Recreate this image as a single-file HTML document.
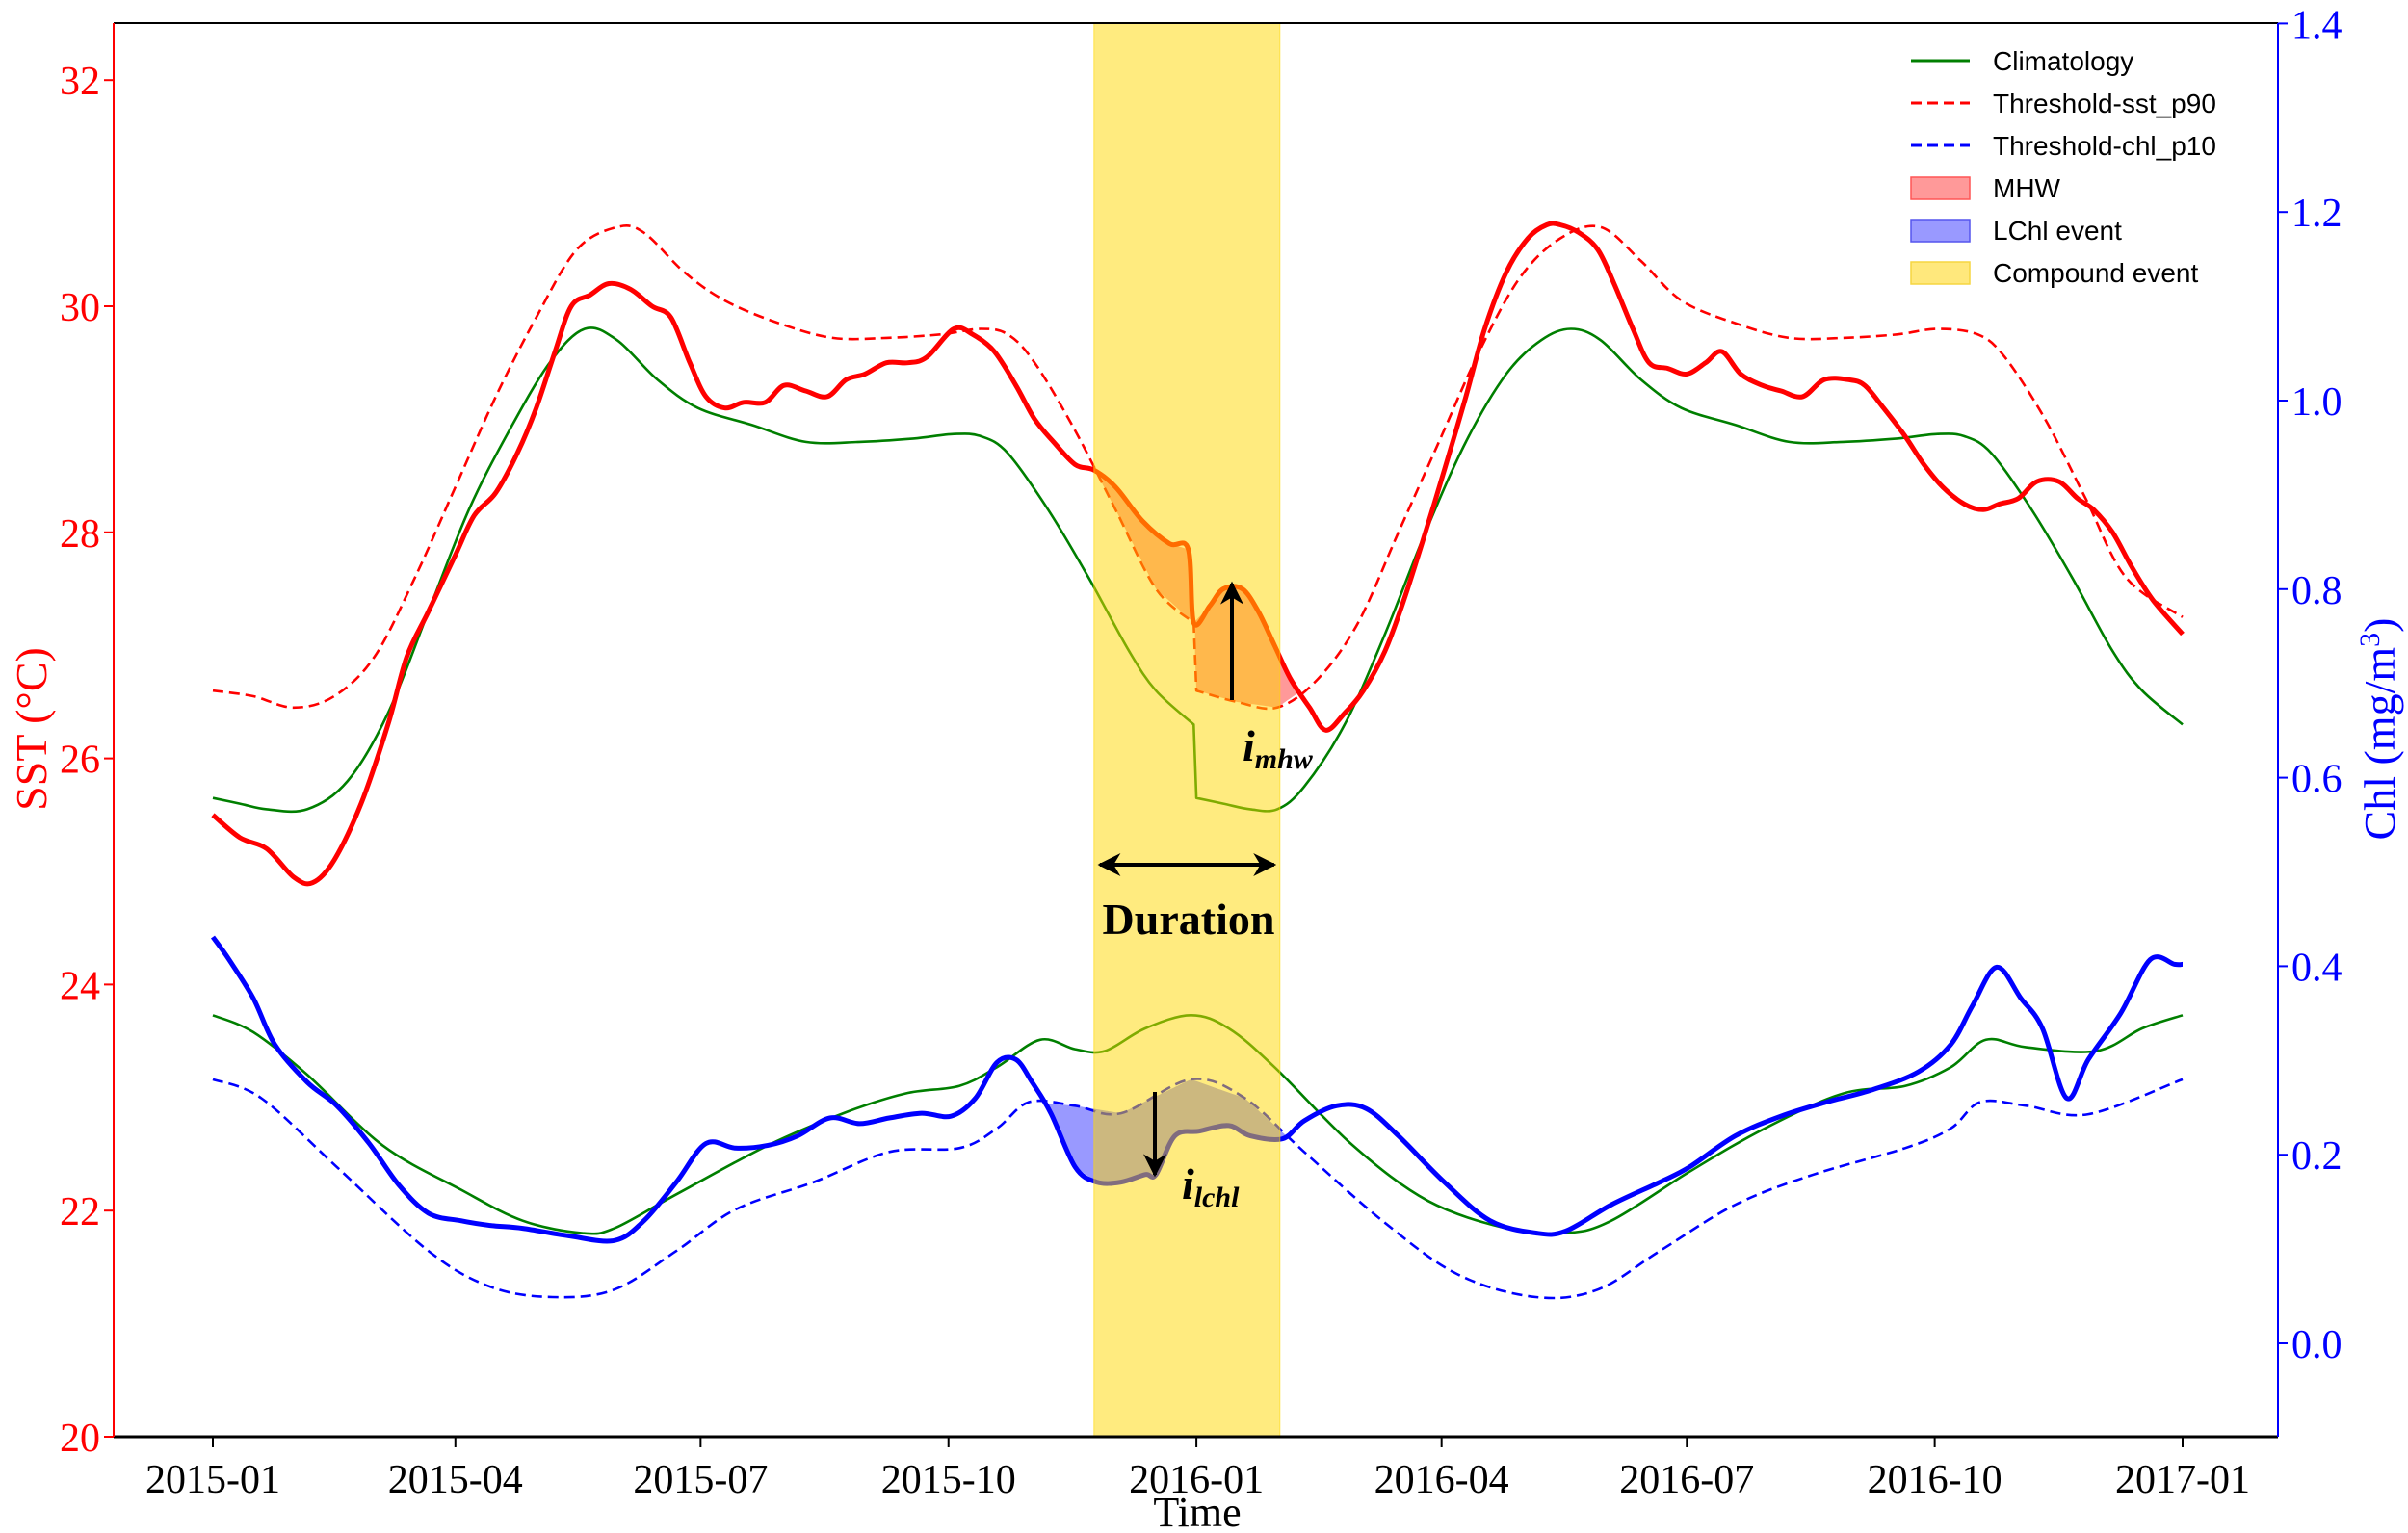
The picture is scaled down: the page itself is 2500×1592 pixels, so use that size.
<!DOCTYPE html>
<html><head><meta charset="utf-8"><style>
html,body{margin:0;padding:0;background:#fff;}
svg{display:block;}
</style></head><body>
<svg id="chart" width="2500" height="1592" viewBox="0 0 2500 1592" xmlns="http://www.w3.org/2000/svg"></svg>
<script>
// ---- data (days since 2015-01-01) ----
const sstClimDays=[0,10,20,35,50,65,80,95,110,125,138,150,165,180,200,220,240,260,275,285,295,310,325,340,350,364,365,375,385,395,405,420,435,450,465,480,493,504,515,530,545,565,585,605,625,640,650,660,675,690,705,716,731];
const sstClimVals=[25.65,25.6,25.55,25.55,25.8,26.4,27.3,28.2,28.9,29.5,29.8,29.7,29.35,29.1,28.95,28.8,28.8,28.83,28.87,28.85,28.7,28.2,27.6,26.95,26.6,26.3,25.65,25.6,25.55,25.55,25.75,26.3,27.1,28.0,28.8,29.4,29.7,29.8,29.7,29.35,29.1,28.95,28.8,28.8,28.83,28.87,28.85,28.7,28.2,27.6,26.95,26.6,26.3];
const sstThrDays=[0,15,30,45,60,75,90,105,120,135,150,160,175,190,210,230,250,270,285,295,305,320,335,350,364,365,380,395,410,425,440,455,470,485,500,515,530,545,565,585,605,625,640,655,665,680,695,710,731];
const sstThrVals=[26.6,26.55,26.45,26.55,26.9,27.6,28.4,29.2,29.9,30.5,30.7,30.65,30.3,30.05,29.85,29.72,29.72,29.75,29.8,29.75,29.5,28.9,28.2,27.5,27.2,26.6,26.5,26.45,26.7,27.2,28.0,28.8,29.6,30.25,30.6,30.7,30.4,30.05,29.85,29.72,29.72,29.75,29.8,29.75,29.55,29.0,28.3,27.6,27.25];
const sstDays=[0,10,20,30,37,45,55,65,72,80,90,97,105,113,120,127,133,140,147,155,163,170,177,183,190,197,205,212,220,228,235,242,250,258,265,275,282,290,298,305,312,320,327,335,345,355,362,364,370,375,382,388,394,400,407,413,420,427,435,442,450,457,465,472,480,488,
 495,500,507,514,520,527,533,540,547,554,560,567,575,582,590,598,607,613,620,628,635,642,650,657,663,670,677,685,692,698,705,712,720,731];
const sstVals=[25.5,25.3,25.2,24.95,24.9,25.1,25.6,26.3,26.9,27.3,27.8,28.15,28.35,28.7,29.1,29.6,30.0,30.1,30.2,30.15,30.0,29.9,29.5,29.2,29.1,29.15,29.15,29.3,29.25,29.2,29.35,29.4,29.5,29.5,29.55,29.8,29.75,29.6,29.3,29.0,28.8,28.6,28.55,28.4,28.1,27.9,27.85,27.2,27.35,27.5,27.5,27.3,27.0,26.7,26.45,26.25,26.4,26.6,26.95,27.4,28.0,28.55,29.2,29.8,30.3,30.6,
 30.72,30.72,30.65,30.5,30.2,29.8,29.5,29.45,29.4,29.5,29.6,29.4,29.3,29.25,29.2,29.35,29.35,29.3,29.1,28.85,28.6,28.4,28.25,28.2,28.25,28.3,28.45,28.45,28.3,28.2,28.0,27.7,27.4,27.1];
const chlClimDays=[0,15,35,63,92,115,137,149,172,206,234,257,277,291,307,320,331,346,363,377,394,423,451,480,502,519,548,576,605,628,645,658,673,699,716,731];
const chlClimVals=[0.348,0.33,0.285,0.21,0.163,0.13,0.117,0.122,0.158,0.21,0.244,0.265,0.273,0.293,0.322,0.312,0.31,0.334,0.348,0.334,0.293,0.21,0.151,0.122,0.117,0.13,0.182,0.228,0.265,0.273,0.293,0.322,0.314,0.31,0.334,0.348];
const chlThrDays=[0,18,46,80,103,126,149,172,194,223,251,277,291,303,320,337,363,383,405,434,462,491,514,537,565,594,628,645,656,673,696,731];
const chlThrVals=[0.28,0.26,0.187,0.098,0.06,0.049,0.057,0.098,0.142,0.171,0.203,0.207,0.228,0.256,0.252,0.244,0.28,0.26,0.203,0.13,0.073,0.049,0.057,0.098,0.147,0.179,0.207,0.228,0.256,0.252,0.243,0.28];
const chlDays=[0,6,15,23,35,46,58,69,80,92,103,115,132,149,160,172,183,194,206,217,229,240,251,263,274,283,291,298,304,311,320,328,337,346,350,357,366,377,385,397,405,417,428,440,457,474,491,502,519,537,548,565,582,599,616,633,645,653,662,671,679,688,696,708,719,728,731];
const chlVals=[0.431,0.407,0.366,0.317,0.277,0.252,0.212,0.168,0.138,0.13,0.125,0.122,0.114,0.109,0.13,0.171,0.212,0.207,0.21,0.22,0.239,0.233,0.239,0.244,0.241,0.26,0.298,0.301,0.277,0.244,0.187,0.171,0.171,0.179,0.179,0.22,0.225,0.231,0.22,0.217,0.236,0.252,0.249,0.22,0.171,0.13,0.117,0.119,0.147,0.171,0.187,0.22,0.241,0.256,0.269,0.288,0.317,0.358,0.399,0.366,0.334,0.26,0.301,0.35,0.407,0.402,0.402];
const eventStart=327, eventEnd=396;       // compound event band (days)
const mhwWin=[327,402], lchlWin=[310,398];
const xTickLabels=['2015-01','2015-04','2015-07','2015-10','2016-01','2016-04','2016-07','2016-10','2017-01'];
const xTickDays=[0,90,181,273,365,456,547,639,731];
const sstTicks=[20,22,24,26,28,30,32];
const chlTicks=[0.0,0.2,0.4,0.6,0.8,1.0,1.2,1.4];

// ---- geometry ----
const L=118,R=2365,T=24,B=1492;
const x0=221,x1=2266;
const X=d=>x0+(x1-x0)*d/731;
const Ys=v=>B-(v-20)*117.4;
const Yc=v=>1395-v*979;
const svg=document.getElementById('chart');
const NS='http://www.w3.org/2000/svg';
function mk(tag,attrs,parent){const e=document.createElementNS(NS,tag);for(const k in attrs)e.setAttribute(k,attrs[k]);(parent||svg).appendChild(e);return e;}
function interp(ds,vs,d){if(d<=ds[0])return vs[0];for(let i=1;i<ds.length;i++){if(d<=ds[i]){const t=(d-ds[i-1])/(ds[i]-ds[i-1]||1);return vs[i-1]+t*(vs[i]-vs[i-1]);}}return vs[vs.length-1];}
function pathOf(ds,vs,Y){
  const n=Math.min(ds.length,vs.length);
  const P=[];for(let i=0;i<n;i++)P.push([X(ds[i]),Y(vs[i])]);
  let s='M'+P[0][0].toFixed(1)+','+P[0][1].toFixed(1);
  for(let i=0;i<n-1;i++){
    const a=P[i],b=P[i+1];
    if(ds[i+1]-ds[i]<=1.01){s+='L'+b[0].toFixed(1)+','+b[1].toFixed(1);continue;}
    let p0=(i>0&&ds[i]-ds[i-1]>1.01)?P[i-1]:a;
    let p3=(i+2<n&&ds[i+2]-ds[i+1]>1.01)?P[i+2]:b;
    const c1=[a[0]+(b[0]-p0[0])/6,a[1]+(b[1]-p0[1])/6];
    const c2=[b[0]-(p3[0]-a[0])/6,b[1]-(p3[1]-a[1])/6];
    s+='C'+c1[0].toFixed(1)+','+c1[1].toFixed(1)+' '+c2[0].toFixed(1)+','+c2[1].toFixed(1)+' '+b[0].toFixed(1)+','+b[1].toFixed(1);
  }
  return s;
}

// fills
function fillBetween(upD,upV,upY,loD,loV,loY,win,color,name){
  let segs=[],cur=[];
  for(let d=win[0];d<=win[1];d+=0.5){
    const u=interp(upD,upV,d),l=interp(loD,loV,d);
    if(upY(u)<loY(l)){cur.push([d,upY(u),loY(l)]);}else if(cur.length){segs.push(cur);cur=[];}
  }
  if(cur.length)segs.push(cur);
  segs.forEach(s=>{
    let p='M'+s.map(a=>X(a[0]).toFixed(1)+','+a[1].toFixed(1)).join('L');
    p+='L'+s.slice().reverse().map(a=>X(a[0]).toFixed(1)+','+a[2].toFixed(1)).join('L')+'Z';
    const e=mk('path',{d:p,fill:color,'fill-opacity':0.4,stroke:'none'});
    
    
  });
}
fillBetween(sstDays,sstVals,Ys,sstThrDays,sstThrVals,Ys,mhwWin,'#ff0000','mhw-fill');
fillBetween(chlThrDays,chlThrVals,Yc,chlDays,chlVals,Yc,lchlWin,'#0000ff','lchl-fill');

// lines
function line(ds,vs,Y,color,w,dash,name){const e=mk('path',{d:pathOf(ds,vs,Y),fill:'none',stroke:color,'stroke-width':w,'stroke-linejoin':'round'});if(dash)e.setAttribute('stroke-dasharray',dash);

}
line(sstClimDays,sstClimVals,Ys,'#007f00',2.6,null,'sst-climatology-line');
line(sstThrDays,sstThrVals,Ys,'#ff0000',2.6,'11,6','sst-threshold-line');
line(sstDays,sstVals,Ys,'#ff0000',5,null,'sst-line');
line(chlClimDays,chlClimVals,Yc,'#007f00',2.6,null,'chl-climatology-line');
line(chlThrDays,chlThrVals,Yc,'#0000ff',2.6,'11,6','chl-threshold-line');
line(chlDays,chlVals,Yc,'#0000ff',5,null,'chl-line');

// band (drawn on top, semi-transparent)
let band=mk('rect',{x:X(eventStart),y:T,width:X(eventEnd)-X(eventStart),height:B-T,fill:'#ffd700','fill-opacity':0.5,stroke:'#ffd700','stroke-opacity':0.6,'stroke-width':1});



// axes
mk('line',{x1:L,y1:T,x2:R,y2:T,stroke:'#000','stroke-width':2});
mk('line',{x1:L,y1:B,x2:R,y2:B,stroke:'#000','stroke-width':3});
mk('line',{x1:L,y1:T,x2:L,y2:B,stroke:'#ff0000','stroke-width':2});
mk('line',{x1:R,y1:T,x2:R,y2:B,stroke:'#0000ff','stroke-width':2});
const F='"Liberation Serif",serif';
xTickDays.forEach((d,i)=>{mk('line',{x1:X(d),y1:B,x2:X(d),y2:B+11,stroke:'#000','stroke-width':2});
 const t=mk('text',{x:X(d),y:B+58,'text-anchor':'middle','font-family':F,'font-size':42,fill:'#000'});t.textContent=xTickLabels[i];
 
 });
sstTicks.forEach(v=>{mk('line',{x1:L-10,y1:Ys(v),x2:L,y2:Ys(v),stroke:'#ff0000','stroke-width':2});
 const t=mk('text',{x:L-14,y:Ys(v)+15,'text-anchor':'end','font-family':F,'font-size':42,fill:'#ff0000'});t.textContent=v;
 
 });
chlTicks.forEach(v=>{mk('line',{x1:R,y1:Yc(v),x2:R+10,y2:Yc(v),stroke:'#0000ff','stroke-width':2});
 const t=mk('text',{x:R+14,y:Yc(v)+15,'font-family':F,'font-size':42,fill:'#0000ff'});t.textContent=v.toFixed(1);
 
 });
let t=mk('text',{x:1243,y:1585,'text-anchor':'middle','font-family':F,'font-size':44});t.textContent='Time';

t=mk('text',{x:0,y:0,transform:'translate(48,757) rotate(-90)','text-anchor':'middle','font-family':F,'font-size':46,fill:'#ff0000'});t.textContent='SST (°C)';

t=mk('text',{x:0,y:0,transform:'translate(2486,757) rotate(-90)','text-anchor':'middle','font-family':F,'font-size':46,fill:'#0000ff'});t.innerHTML='Chl (mg/m<tspan dy="-16" font-size="30">3</tspan><tspan dy="16">)</tspan>';


// annotations
mk('defs',{}).innerHTML='<marker id="ah" viewBox="0 0 10 10" refX="9" refY="5" markerWidth="6" markerHeight="6" orient="auto-start-reverse"><path d="M0,0L10,5L0,10L3,5Z" fill="#000"/></marker>';
let a=mk('line',{x1:X(eventStart)+6,y1:898,x2:X(eventEnd)-6,y2:898,stroke:'#000','stroke-width':4,'marker-start':'url(#ah)','marker-end':'url(#ah)'});

t=mk('text',{x:1234,y:970,'text-anchor':'middle','font-family':F,'font-size':46,'font-weight':'bold'});t.textContent='Duration';

a=mk('line',{x1:1279,y1:727,x2:1279,y2:606,stroke:'#000','stroke-width':4,'marker-end':'url(#ah)'});

t=mk('text',{x:1290,y:790,'font-family':F,'font-size':46,'font-weight':'bold','font-style':'italic'});t.innerHTML='i<tspan font-size="30" dy="8">mhw</tspan>';

a=mk('line',{x1:1199,y1:1134,x2:1199,y2:1220,stroke:'#000','stroke-width':4,'marker-end':'url(#ah)'});

t=mk('text',{x:1227,y:1245,'font-family':F,'font-size':46,'font-weight':'bold','font-style':'italic'});t.innerHTML='i<tspan font-size="30" dy="8">lchl</tspan>';


// legend
const lg=mk('g',{});

const items=[['Climatology','line','#007f00',null],['Threshold-sst_p90','line','#ff0000','11,6'],['Threshold-chl_p10','line','#0000ff','11,6'],['MHW','patch','#ff9999','#ff5555'],['LChl event','patch','#9999ff','#5555ee'],['Compound event','patch','#ffe87c','#f5d640']];
items.forEach((it,i)=>{const y=63+i*44;
 const g=mk('g',{},lg);
 
 
 if(it[1]==='line'){const l=mk('line',{x1:1984,y1:y,x2:2045,y2:y,stroke:it[2],'stroke-width':3},g);if(it[3])l.setAttribute('stroke-dasharray','11,6');}
 else mk('rect',{x:1984,y:y-11,width:61,height:23,fill:it[2],stroke:it[3],'stroke-width':1.5},g);
 const tx=mk('text',{x:2069,y:y+10,'font-family':'"Liberation Sans",sans-serif','font-size':28},g);tx.textContent=it[0];});
</script>
</body></html>
